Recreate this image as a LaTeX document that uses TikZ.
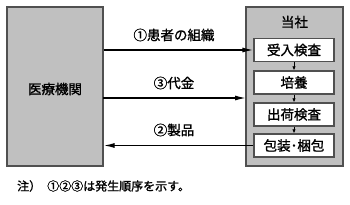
\documentclass[tikz,border=0pt]{standalone}
\usepackage{fontspec}
\setmainfont{Noto Sans CJK JP}[AutoFakeBold=1.3]
\usetikzlibrary{arrows.meta}
\definecolor{boxgray}{HTML}{C0C0C0}
\definecolor{edge}{HTML}{505050}
\tikzset{
  outer/.style={draw=edge, line width=1.3pt, fill=boxgray, inner sep=0pt},
  inner/.style={draw=edge, line width=1.3pt, fill=white, minimum width=80pt, minimum height=23pt, inner sep=0pt, font=\fontsize{13.5pt}{14pt}\selectfont\bfseries},
  lbl/.style={font=\fontsize{13.5pt}{14pt}\selectfont\bfseries, inner sep=0pt},
  conn/.style={line width=1.3pt, draw=black, -{Latex[length=11pt,width=5pt]}},
  small/.style={line width=0.9pt, draw=black, -{Latex[length=4pt,width=3.5pt]}}
}
\begin{document}
\begin{tikzpicture}[x=1pt,y=-1pt]
\useasboundingbox (0,0) rectangle (350,205);
\node[outer, minimum width=96pt, minimum height=159pt] (med) at (55,86.5) {};
\node[lbl] (medt) at (55,89) {医療機関};
\node[outer, minimum width=97pt, minimum height=159pt] (us) at (294.5,86.5) {};
\node[lbl] (ust) at (294.5,22) {当社};
\node[inner] (b1) at (294,50) {受入検査};
\node[inner] (b2) at (294,82.5) {培養};
\node[inner] (b3) at (294,114.5) {出荷検査};
\node[inner] (b4) at (294,145.5) {包装･梱包};
\coordinate (a1s) at (med.east |- b1.west);
\coordinate (a3s) at (103,98);
\coordinate (a3e) at (246,98);
\coordinate (a2e) at (med.east |- b4.west);
\draw[conn] (a1s) -- (b1.west);
\draw[conn] (a3s) -- (a3e);
\draw[conn] (b4.west) -- (a2e);
\draw[small] (b1.south) -- (b2.north);
\draw[small] (b2.south) -- (b3.north);
\draw[small] (b3.south) -- (b4.north);
\node[lbl] (l1) at (174,35) {①患者の組織};
\node[lbl] (l3) at (174,83) {③代金};
\node[lbl] (l2) at (174,130) {②製品};
\node[font=\fontsize{12pt}{12pt}\selectfont\bfseries, inner sep=0pt, anchor=west] (note) at (17,186) {注）\hspace{0.5em}①②③は発生順序を示す。};
\end{tikzpicture}
\end{document}
